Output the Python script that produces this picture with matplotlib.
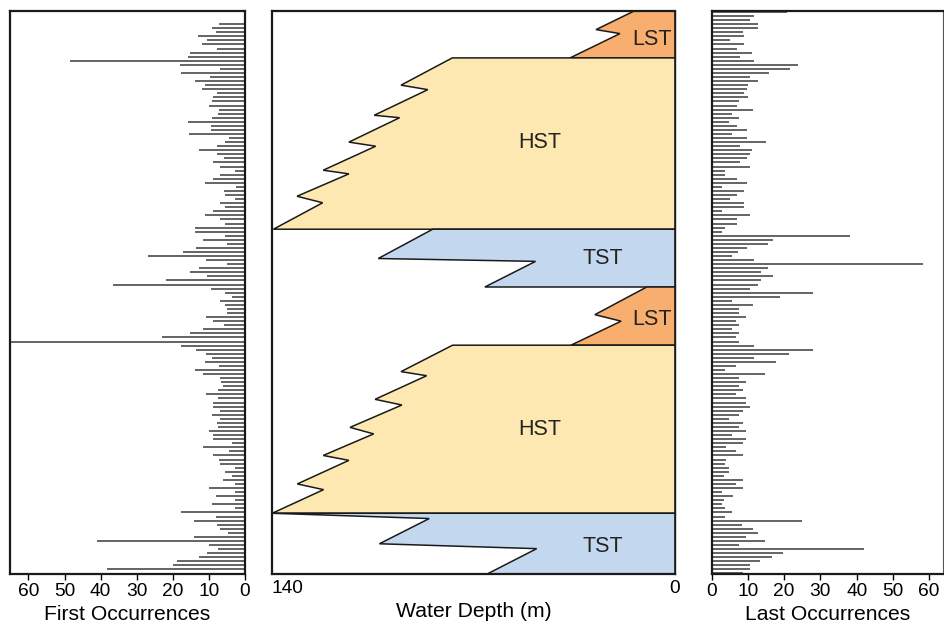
import numpy as np
import matplotlib.pyplot as plt

plt.rcParams['font.family'] = ['Liberation Sans', 'DejaVu Sans']

# sample levels through the section, top = 0
levels = np.arange(139)

first_occ = [0, 0, 0,
             7.1, 9.0, 8.0, 13.0, 10.5, 12.0, 7.7, 15.3, 15.8, 48.4, 18.0, 7.0, 17.8, 9.7, 13.9,
             11.0, 12.0, 7.7, 8.8, 9.0, 10.0, 7.3, 7.5, 9.2, 15.8, 9.4, 9.4, 15.6, 4.5, 5.5, 7.7,
             12.8, 7.7, 5.8, 8.8, 6.8, 2.7, 7.0, 8.8, 11.0, 2.5, 5.8, 5.6,
             2.7, 7.0, 5.5, 8.8, 11.0, 6.8, 5.6, 13.8, 13.8, 5.6, 11.6, 4.9, 13.6, 17.1, 26.8,
             10.8, 4.9, 12.7, 15.1, 10.6, 21.8, 36.6, 9.4, 5.5, 3.6, 7.0, 5.5, 4.9, 4.9, 10.8,
             8.8, 5.8, 11.6, 15.1, 22.9, 80.0, 17.7, 13.6, 10.8, 9.0, 11.0, 7.1, 13.8, 11.6, 6.8,
             6.6, 6.2,
             7.5, 10.8, 7.5, 8.8, 8.8, 6.8, 9.0, 6.9, 7.7, 7.5, 9.9, 8.8, 8.8, 3.6, 11.6, 4.5,
             8.8, 7.3, 6.9, 2.7, 5.5, 3.6, 6.0, 2.7, 10.1, 2.7, 8.1, 2.7, 9.2, 2.7, 17.7, 7.9,
             14.0, 7.7, 6.9, 4.7, 14.0, 41.0, 9.9, 7.5, 10.6, 12.7, 18.8, 19.9, 38.1,
             0]

last_occ = [20.8, 11.7, 10.7, 12.9, 12.9, 8.7, 8.9, 5.0, 8.9, 6.9, 11.0, 7.8, 11.7, 23.9, 21.7,
            15.9, 10.6, 12.9, 9.9, 9.8, 8.9, 9.9, 7.6, 6.9, 11.5, 5.7, 7.6, 4.9, 6.9, 9.8, 5.5,
            9.8, 14.9, 7.8, 11.0, 10.6, 9.8, 7.7, 10.7, 3.8, 3.8, 6.9, 9.8, 2.8, 8.9, 6.9, 5.0,
            8.8, 8.8, 2.8, 10.7, 6.9, 6.9, 3.7, 2.8, 38.3, 16.8, 15.5, 9.7, 7.4, 5.6, 11.7, 58.3,
            15.5, 13.6, 16.8, 13.6, 12.8, 10.7, 28.0, 18.8, 5.5, 11.5, 7.5, 7.6, 9.6, 6.7, 7.6,
            5.6, 7.6, 6.7, 7.6, 11.6, 28.0, 21.4, 11.7, 17.7, 6.7, 3.7, 14.6, 7.5, 9.6, 7.5, 8.7,
            6.7, 9.6, 9.6, 10.6, 8.7, 7.5, 4.7, 8.7, 7.5, 9.6, 5.6, 9.6, 8.7, 3.9, 6.7, 8.7, 3.9,
            3.6, 4.9, 4.9, 3.4, 8.7, 6.7, 8.7, 2.8, 5.8, 3.5, 2.8, 3.6, 5.6, 3.6, 24.8, 8.4, 11.5,
            12.7, 9.4, 14.6, 7.5, 42.1, 19.7, 16.6, 13.4, 10.6, 10.6, 8.7]

# systems tract outlines: water depth (m) vs sample level
lst1_depth = [14.1, 27.4, 19.1, 36.4, 0, 0]
lst1_level = [-0.25, 4.35, 5.33, 11.3, 11.3, -0.25]
hst1_depth = [77.3, 95.1, 85.8, 104.4, 95.6, 113.2, 103.9, 122.1, 113.2, 131.2, 122.3, 139.4, 0, 0]
hst1_level = [11.3, 18.0, 19.1, 25.4, 26.0, 32.0, 33.0, 38.9, 39.8, 45.3, 46.9, 53.4, 53.4, 11.3]
tst1_depth = [84.1, 103.0, 48.4, 66.0, 0, 0]
tst1_level = [53.4, 60.6, 61.3, 67.6, 67.6, 53.4]
lst2_depth = [9.8, 27.8, 18.7, 36.1, 0, 0]
lst2_level = [67.6, 74.4, 76.0, 81.9, 81.9, 67.6]
hst2_depth = [77.2, 95.1, 86.2, 104.1, 94.8, 112.8, 104.6, 122.1, 113.2, 131.1, 122.0, 139.8, 0, 0]
hst2_level = [81.9, 88.4, 89.4, 95.2, 96.6, 102.1, 103.7, 109.0, 110.2, 116.0, 117.4, 123.2, 123.2, 81.9]
tst2_depth = [139.8, 85.3, 102.6, 48.0, 65.4, 0, 0]
tst2_level = [123.2, 124.5, 130.7, 131.9, 138.2, 138.2, 123.2]

tract_names = ['LST', 'HST', 'TST', 'LST', 'HST', 'TST']
tract_colors = {'LST': '#F8AE6E', 'HST': '#FDE8B1', 'TST': '#C3D8EE'}

fig = plt.figure(figsize=(9.44, 6.26), dpi=100)
ax1 = fig.add_axes([0.0106, 0.0826, 0.2489, 0.900])
ax2 = fig.add_axes([0.2878, 0.0826, 0.4272, 0.900])
ax3 = fig.add_axes([0.7539, 0.0826, 0.2453, 0.900])

ylim = (138.2, -0.25)

# first occurrences
ax1.hlines(levels, 0, first_occ, color='#3a3a3a', lw=1.1)
ax1.set_xlim(65.1, 0)
ax1.set_xticks([60, 50, 40, 30, 20, 10, 0])
ax1.set_xlabel('First Occurrences', fontsize=15.2, labelpad=4)

# water depth curve
outlines = [(lst1_depth, lst1_level), (hst1_depth, hst1_level), (tst1_depth, tst1_level),
            (lst2_depth, lst2_level), (hst2_depth, hst2_level), (tst2_depth, tst2_level)]
label_xy = [(8, 6.9), (47, 32.2), (25, 60.7), (8, 75.7), (47, 102.7), (25, 131.4)]
for (d, l), name, (tx, ty) in zip(outlines, tract_names, label_xy):
    ax2.fill(d, l, facecolor=tract_colors[name], edgecolor='#1a1a1a', lw=1.1)
    ax2.text(tx, ty, name, fontsize=15.5, ha='center', va='center', color='#222')
ax2.set_xlim(140, 0)
ax2.set_xticks([140, 0])
ax2.get_xticklabels()[0].set_ha('left')
ax2.set_xlabel('Water Depth (m)', fontsize=15.2, labelpad=4)

# last occurrences
ax3.hlines(levels, 0, last_occ, color='#3a3a3a', lw=1.1)
ax3.set_xlim(0, 63.9)
ax3.set_xticks([0, 10, 20, 30, 40, 50, 60])
ax3.set_xlabel('Last Occurrences', fontsize=15.2, labelpad=4)

for ax in (ax1, ax2, ax3):
    ax.set_ylim(*ylim)
    ax.set_yticks([])
    ax.tick_params(axis='x', labelsize=13.8, direction='out', length=4, width=1, pad=2)
    for s in ax.spines.values():
        s.set_linewidth(1.6)
        s.set_color('#1a1a1a')
ax2.tick_params(axis='x', length=0, pad=4)
ax2.get_xticklabels()[0].set_x(138.5)
ax2.spines['right'].set_linewidth(1)
ax3.spines['right'].set_linewidth(0.8)
ax3.spines['right'].set_color('#555')

fig.savefig('out.png', dpi=100)
